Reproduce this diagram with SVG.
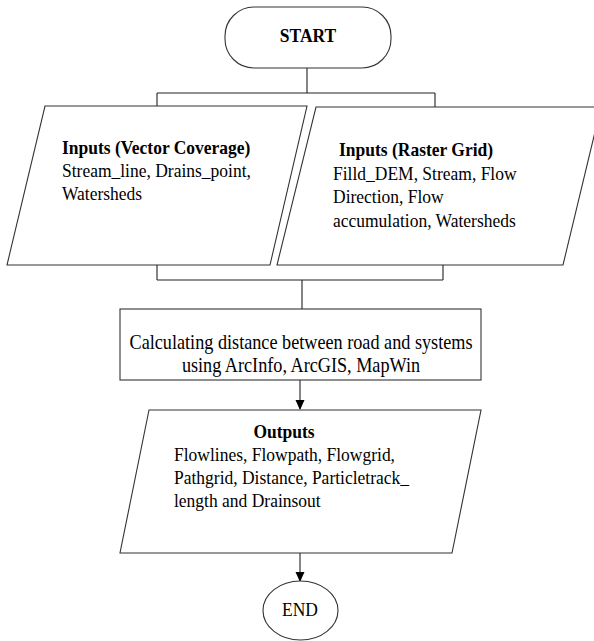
<svg xmlns="http://www.w3.org/2000/svg" width="594" height="641" viewBox="0 0 594 641">
<style>
.shape{fill:#fff;stroke:#333;stroke-width:1.1}
.conn{fill:none;stroke:#222;stroke-width:1.1}
.t{font-family:"Liberation Serif","Times New Roman",serif;font-size:17.5px;fill:#000}
.b{font-weight:bold}
.big{font-size:18.2px}
</style>
<defs>
<marker id="arr" markerWidth="10" markerHeight="12" refX="9" refY="6" orient="auto" markerUnits="userSpaceOnUse">
<path d="M0,1.5 L10,6 L0,10.5 Z" fill="#000"/>
</marker>
</defs>
<rect width="594" height="641" fill="#fff"/>
<g id="connectors">
<path class="conn" d="M307,68 V93 M157,93 H435 M157,93 V106 M435,93 V107"/>
<path class="conn" d="M157,265 V280 M443,265 V280 M157,280 H443 M302,280 V309"/>
<path class="conn" d="M300,380 V409" marker-end="url(#arr)"/>
<path class="conn" d="M300,553 V581" marker-end="url(#arr)"/>
</g>
<g id="start">
<rect class="shape" x="225" y="7" width="166" height="61" rx="29" ry="29"/>
<text class="t b" text-anchor="middle" transform="translate(308,42) scale(1,1.12)">START</text>
</g>
<g id="inputs-vector">
<polygon class="shape" points="45,106 307,106 270,265 7,265"/>
<text class="t" transform="translate(62,154) scale(1,1.12)"><tspan class="b" x="0" y="0">Inputs (Vector Coverage)</tspan><tspan x="0" dy="20.5">Stream_line, Drains_point,</tspan><tspan x="0" dy="20.5">Watersheds</tspan></text>
</g>
<g id="inputs-raster">
<polygon class="shape" points="316,107 601,107 563,265 277,265"/>
<text class="t" transform="translate(333,156) scale(1,1.12)"><tspan class="b" x="6" y="0">Inputs (Raster Grid)</tspan><tspan x="0" dy="21.2">Filld_DEM, Stream, Flow</tspan><tspan x="0" dy="21.2">Direction, Flow</tspan><tspan x="0" dy="21.2">accumulation, Watersheds</tspan></text>
</g>
<g id="calculate">
<rect class="shape" x="120" y="309" width="361" height="71"/>
<text class="t big" text-anchor="middle" transform="translate(301,349) scale(1,1.12)"><tspan x="0" y="0">Calculating distance between road and systems</tspan><tspan x="0" dy="20.5">using ArcInfo, ArcGIS, MapWin</tspan></text>
</g>
<g id="outputs">
<polygon class="shape" points="149,410 481,410 452,553 120,553"/>
<text class="t" transform="translate(174,438) scale(1,1.12)"><tspan class="b" x="110" y="0" text-anchor="middle">Outputs</tspan><tspan x="0" dy="20.5">Flowlines, Flowpath, Flowgrid,</tspan><tspan x="0" dy="20.5">Pathgrid, Distance, Particletrack_</tspan><tspan x="0" dy="20.5">length and Drainsout</tspan></text>
</g>
<g id="end">
<ellipse class="shape" cx="300.5" cy="610.5" rx="37.5" ry="29.5"/>
<text class="t" text-anchor="middle" transform="translate(300,616) scale(1,1.12)">END</text>
</g>
</svg>
